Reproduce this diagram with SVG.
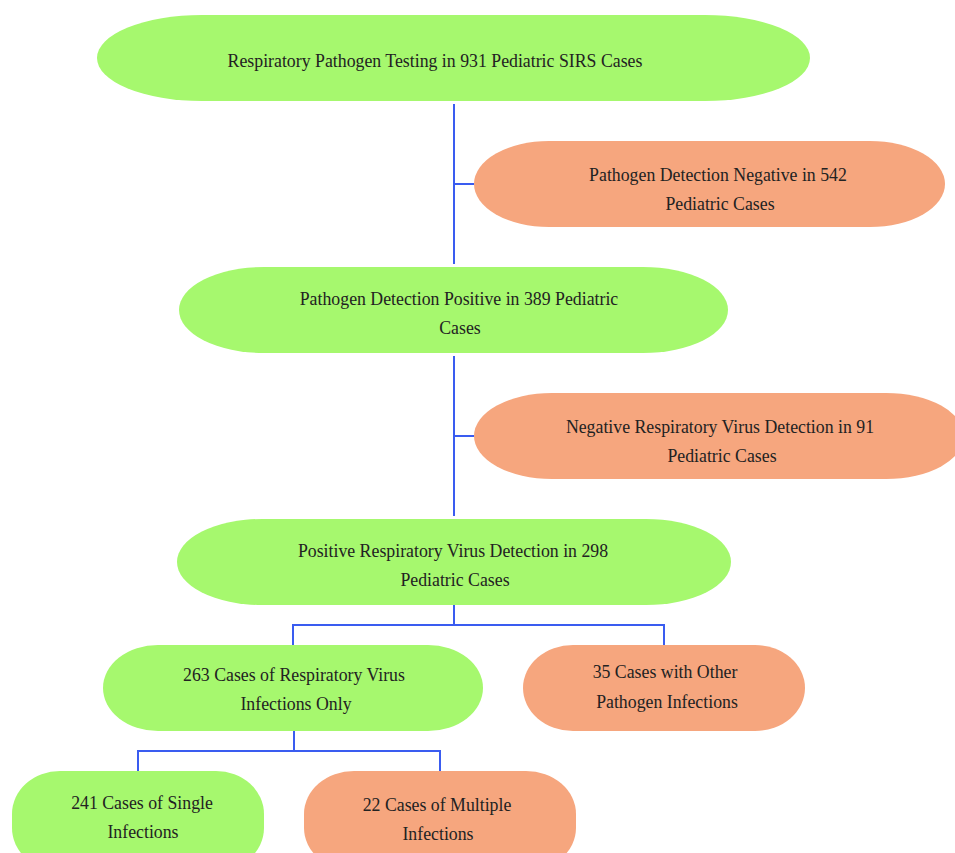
<svg xmlns="http://www.w3.org/2000/svg" width="955" height="853" viewBox="0 0 955 853">
<style>
.g{fill:#a6f86e}
.o{fill:#f6a67e}
text{font-family:"Liberation Serif","DejaVu Serif",serif;font-size:17.8px;fill:#222;text-anchor:middle}
.c{stroke:#3a5cf0;stroke-width:2;fill:none}
</style>
<rect width="955" height="853" fill="#fff"/>
<g id="connectors">
<path class="c" d="M454 104V264M454 184H474"/>
<path class="c" d="M454 356V516M454 436H474"/>
<path class="c" d="M454 605V625M293 645V625H664V645"/>
<path class="c" d="M294 731V751M138 771V751H440V771"/>
</g>
<g id="n1"><rect class="g" x="97" y="15" width="713" height="86" rx="105" ry="43"/><text x="435" y="67">Respiratory Pathogen Testing in 931 Pediatric SIRS Cases</text></g>
<g id="n2"><rect class="o" x="474" y="141" width="471" height="86" rx="75" ry="43"/><text x="718" y="181">Pathogen Detection Negative in 542</text><text x="720" y="210">Pediatric Cases</text></g>
<g id="n3"><rect class="g" x="179" y="267" width="549" height="86" rx="85" ry="43"/><text x="459" y="305">Pathogen Detection Positive in 389 Pediatric</text><text x="460" y="334">Cases</text></g>
<g id="n4"><rect class="o" x="474" y="393" width="490" height="86" rx="78" ry="43"/><text x="720" y="433">Negative Respiratory Virus Detection in 91</text><text x="722" y="462">Pediatric Cases</text></g>
<g id="n5"><rect class="g" x="177" y="519" width="554" height="86" rx="85" ry="43"/><text x="453" y="557">Positive Respiratory Virus Detection in 298</text><text x="455" y="586">Pediatric Cases</text></g>
<g id="n6"><rect class="g" x="103" y="645" width="380" height="86" rx="55" ry="43"/><text x="294" y="681">263 Cases of Respiratory Virus</text><text x="296" y="710">Infections Only</text></g>
<g id="n7"><rect class="o" x="523" y="645" width="282" height="86" rx="50" ry="43"/><text x="665" y="678">35 Cases with Other</text><text x="667" y="708">Pathogen Infections</text></g>
<g id="n8"><rect class="g" x="12" y="771" width="252" height="100" rx="48" ry="43"/><text x="142" y="809">241 Cases of Single</text><text x="143" y="838">Infections</text></g>
<g id="n9"><rect class="o" x="304" y="771" width="272" height="100" rx="50" ry="43"/><text x="437" y="811">22 Cases of Multiple</text><text x="438" y="840">Infections</text></g>
</svg>
